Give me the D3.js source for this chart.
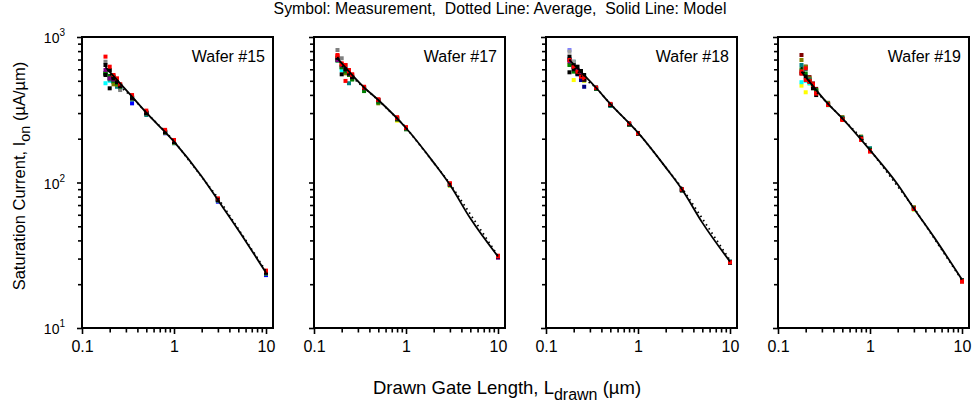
<!DOCTYPE html>
<html><head><meta charset="utf-8">
<script src="https://cdn.jsdelivr.net/npm/d3@7"></script>
<style>
body{margin:0;background:#fff}
text{font-family:"Liberation Sans",Arial,Helvetica,sans-serif;fill:#000}
</style>
</head><body>
<svg id="chart" width="973" height="402"></svg>
<script>
// ---------- data ----------
const gateL = [0.18, 0.2, 0.22, 0.24, 0.26, 0.35, 0.5, 0.8, 1, 3, 10];
const modelL = [0.18, 0.35, 0.5, 1, 2, 3, 5, 10];
const waferNames = ["Wafer #15", "Wafer #17", "Wafer #18", "Wafer #19"];

const model15 = [620, 389, 302, 191, 110, 75.8, 47.2, 24];
const model17 = [714, 451, 369, 237, 137, 96.4, 56.7, 31];
const model18 = [695, 448, 347, 220, 127, 89.8, 53, 28.6];
const model19 = [578, 347, 276, 167, 97, 66.3, 41.8, 21.5];

const avg15 = [640, 560, 520, 495, 460, 385, 302, 224, 193, 78.5, 24.6];
const avg17 = [730, 640, 590, 560, 530, 448, 368, 276, 239, 98.5, 31.3];
const avg18 = [700, 620, 585, 545, 515, 450, 346, 256, 222, 92, 29.2];
const avg19 = [620, 540, 500, 460, 420, 348, 276, 204, 168, 67, 21.3];

// measurement symbols: [colour, values at gateL], drawn bottom to top
const meas15 = [
  ["#00ffff", [481, 500, 490, 470, 450, 380, 298, 220, 188, 75, 23.6]],
  ["#0000ff", [560, 520, 500, 480, 450, 350, 296, 218, 187, 73.8, 23.1]],
  ["#008080", [560, 510, 490, 455, 445, 372, 291, 220, 186, 75, 23.5]],
  ["#808000", [560, 520, 473, 470, 450, 378, 298, 220, 188, 75.5, 23.8]],
  ["#808080", [676, 590, 540, 500, 432, 385, 305, 225, 192, 76.5, 24.2]],
  ["#008000", [563, 540, 500, 480, 455, 380, 300, 222, 190, 76, 24]],
  ["#800080", [593, 520, 510, 490, 460, 380, 300, 222, 190, 76, 24]],
  ["#000000", [548, 444, 520, 490, 460, 382, 300, 222, 190, 76, 24]],
  ["#000000", [642, 593, 530, 500, 470, 385, 303, 224, 191, 76.5, 24.2]],
  ["#ff0000", [733, 625, 548, 520, 473, 399, 312, 230, 196, 77.8, 24.8]]
];
const meas17 = [
  ["#ffff00", [700, 640, 590, 560, 520, 440, 365, 266, 235, 95, 30.8]],
  ["#008080", [690, 620, 580, 481, 520, 440, 360, 275, 234, 96, 30.8]],
  ["#00ffff", [700, 593, 580, 550, 520, 445, 365, 275, 235, 96, 31]],
  ["#808000", [700, 620, 563, 548, 520, 440, 350, 270, 235, 96, 30.8]],
  ["#008000", [690, 620, 580, 550, 510, 425, 355, 272, 232, 96, 31]],
  ["#808080", [814, 714, 640, 590, 540, 450, 370, 278, 238, 97, 31]],
  ["#800080", [695, 640, 600, 560, 530, 445, 368, 276, 236, 97, 30.4]],
  ["#000000", [720, 554, 600, 560, 530, 448, 368, 276, 237, 97, 31]],
  ["#ff0000", [740, 650, 499, 580, 550, 450, 370, 278, 238, 98, 31.2]],
  ["#ff0000", [752, 659, 642, 593, 554, 455, 373, 281, 240, 98.8, 31.4]]
];
const meas18 = [
  ["#ffff00", [650, 506, 560, 530, 500, 440, 340, 250, 216, 88, 28]],
  ["#000080", [700, 620, 554, 506, 455, 440, 340, 250, 216, 88, 28]],
  ["#8080ff", [814, 640, 590, 550, 510, 440, 342, 252, 217, 89, 28.2]],
  ["#008080", [700, 676, 590, 550, 510, 442, 336, 252, 217, 89, 28.6]],
  ["#a0a0a0", [793, 676, 590, 550, 510, 445, 344, 253, 218, 89, 28.3]],
  ["#008000", [642, 578, 580, 545, 505, 440, 340, 250, 216, 88.5, 28]],
  ["#800080", [680, 620, 593, 550, 510, 445, 344, 252, 218, 89, 28.2]],
  ["#000000", [572, 600, 560, 540, 510, 445, 342, 252, 217, 89, 28.2]],
  ["#000000", [733, 640, 625, 584, 548, 450, 345, 254, 219, 89.5, 28.5]],
  ["#ff0000", [695, 625, 578, 534, 520, 448, 347, 255, 218, 89.8, 28.3]]
];
const meas19 = [
  ["#ffff00", [463, 417, 480, 450, 420, 340, 272, 200, 165, 65, 21]],
  ["#00ffff", [489, 500, 480, 450, 420, 340, 272, 200, 166, 65.5, 21]],
  ["#800000", [752, 625, 530, 480, 440, 350, 280, 205, 170, 67, 21.2]],
  ["#808000", [695, 625, 520, 455, 430, 353, 281, 207, 170, 67.6, 21.3]],
  ["#008080", [642, 600, 510, 460, 425, 348, 278, 205, 172, 66.5, 21.2]],
  ["#008000", [600, 560, 500, 460, 432, 345, 275, 203, 168, 66, 21]],
  ["#000000", [563, 534, 493, 444, 399, 345, 274, 202, 166, 66, 21.2]],
  ["#ff0000", [560, 506, 500, 470, 410, 345, 272, 200, 165, 66, 21]],
  ["#ff0000", [580, 609, 493, 473, 410, 341, 269, 196, 163, 65.8, 20.8]]
];

const xMajor = [0.1, 1, 10];
const xMajorLabels = ["0.1", "1", "10"];
const xMinor = [0.2,0.3,0.4,0.5,0.6,0.7,0.8,0.9,2,3,4,5,6,7,8,9];
const yMajor = [10, 100, 1000];
const yMajorExp = ["1", "2", "3"];
const yMinor = [20,30,40,50,60,70,80,90,200,300,400,500,600,700,800,900];

const panels = [
  {name: waferNames[0], model: model15, avg: avg15, meas: meas15},
  {name: waferNames[1], model: model17, avg: avg17, meas: meas17},
  {name: waferNames[2], model: model18, avg: avg18, meas: meas18},
  {name: waferNames[3], model: model19, avg: avg19, meas: meas19}
];

// ---------- layout ----------
const svg = d3.select("#chart");
const panelLeft = [82, 314, 546, 778];
const pw = 191, plotTop = 37, plotBottom = 328;

const y = d3.scaleLog().domain([10, 1000]).range([plotBottom, plotTop]);

panels.forEach((p, i) => {
  const x0 = panelLeft[i];
  const x = d3.scaleLog().domain([0.1, 0.1 * Math.pow(10, pw / 92)]).range([x0, x0 + pw]);
  const g = svg.append("g");

  // ticks
  const xMin = d3.axisBottom(x).tickValues(xMinor).tickSize(4.5).tickFormat("").tickSizeOuter(0);
  const xMaj = d3.axisBottom(x).tickValues(xMajor).tickSize(6).tickFormat((d, k) => xMajorLabels[k]).tickSizeOuter(0).tickPadding(7);
  const yMin = d3.axisLeft(y).tickValues(yMinor).tickSize(4).tickFormat("").tickSizeOuter(0);
  const yMaj = d3.axisLeft(y).tickValues(yMajor).tickSize(5).tickFormat("").tickSizeOuter(0);
  [xMin, xMaj].forEach(ax => {
    const a = g.append("g").attr("transform", `translate(0,${plotBottom})`).call(ax);
    a.select(".domain").remove();
    a.selectAll("line").attr("stroke", "#000").attr("stroke-width", 1.6);
    a.selectAll("text").attr("font-size", 16).attr("fill", "#000")
      .style("font-family", '"Liberation Sans",Arial,sans-serif');
  });
  [yMin, yMaj].forEach(ax => {
    const a = g.append("g").attr("transform", `translate(${x0},0)`).call(ax);
    a.select(".domain").remove();
    a.selectAll("line").attr("stroke", "#000").attr("stroke-width", 1.6);
  });
  if (i === 0) {
    yMajor.forEach((v, k) => {
      const t = g.append("text").attr("x", 65).attr("y", y(v) + 6)
        .attr("text-anchor", "end").attr("font-size", 14);
      t.append("tspan").text("10");
      t.append("tspan").attr("font-size", 10).attr("dy", -7).text(yMajorExp[k]);
    });
  }

  // measurement symbols
  p.meas.forEach(([col, vals]) => {
    g.append("g").selectAll("rect").data(vals).join("rect")
      .attr("x", (d, k) => x(gateL[k]) - 2)
      .attr("y", d => y(d) - 2)
      .attr("width", 4).attr("height", 4)
      .attr("fill", col);
  });

  // model line
  const lineM = d3.line().x((d, k) => x(modelL[k])).y(d => y(d)).curve(d3.curveMonotoneX);
  g.append("path").attr("d", lineM(p.model)).attr("fill", "none")
    .attr("stroke", "#000").attr("stroke-width", 1.8);
  // average line
  const lineA = d3.line().x((d, k) => x(gateL[k])).y(d => y(d));
  g.append("path").attr("d", lineA(p.avg)).attr("fill", "none")
    .attr("stroke", "#000").attr("stroke-width", 1.8).attr("stroke-dasharray", "1.5,3.5");

  // frame
  g.append("rect").attr("x", x0).attr("y", plotTop).attr("width", pw).attr("height", plotBottom - plotTop)
    .attr("fill", "none").attr("stroke", "#000").attr("stroke-width", 2);

  g.append("text").attr("x", x0 + pw - 8).attr("y", 62).attr("text-anchor", "end")
    .attr("font-size", 16).text(p.name);
});

// titles
svg.append("text").attr("x", 500).attr("y", 14).attr("text-anchor", "middle")
  .attr("font-size", 15.8).style("white-space", "pre")
  .text("Symbol: Measurement,  Dotted Line: Average,  Solid Line: Model");

const xt = svg.append("text").attr("x", 507).attr("y", 394).attr("text-anchor", "middle").attr("font-size", 18.5);
xt.append("tspan").text("Drawn Gate Length, L");
xt.append("tspan").attr("dy", 6).attr("font-size", 16).text("drawn");
xt.append("tspan").attr("dy", -6).text(" (\u00b5m)");

const yt = svg.append("text").attr("transform", "translate(25,176) rotate(-90)")
  .attr("text-anchor", "middle").attr("font-size", 16.5);
yt.append("tspan").text("Saturation Current, I");
yt.append("tspan").attr("dy", 5).attr("font-size", 14.5).text("on");
yt.append("tspan").attr("dy", -5).text(" (\u00b5A/\u00b5m)");
</script>
</body></html>
